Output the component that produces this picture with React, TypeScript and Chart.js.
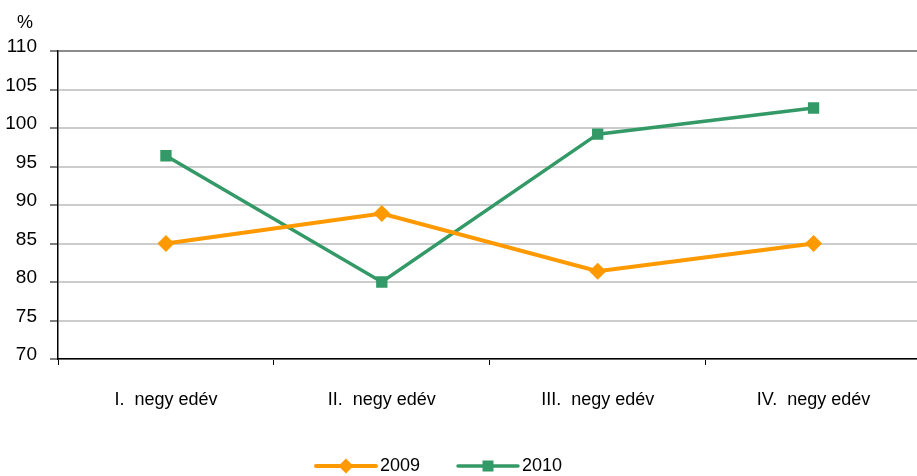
import React, { useEffect, useRef } from "react";
import { Chart, registerables } from "chart.js";

Chart.register(...registerables);

const categories = ["I.  negy edév", "II.  negy edév", "III.  negy edév", "IV.  negy edév"];
const series2009 = [85, 88.9, 81.4, 85];
const series2010 = [96.4, 80, 99.2, 102.6];
const seriesLabels = ["2009", "2010"];
const yMin = 70;
const yMax = 110;
const yStep = 5;
const yUnit = "%";

const ORANGE = "#FF9900";
const GREEN = "#339966";
const FONT = "'Liberation Sans', Arial, sans-serif";

const unitPlugin = {
  id: "unitLabel",
  afterDraw(chart: any) {
    const ctx = chart.ctx;
    const y = chart.scales.y;
    ctx.save();
    ctx.font = `18px ${FONT}`;
    ctx.fillStyle = "#000";
    ctx.textAlign = "center";
    ctx.textBaseline = "middle";
    ctx.fillText(yUnit, 25, y.top - 28);
    ctx.restore();
  },
};

const legendPlugin = {
  id: "lineLegend",
  afterDraw(chart: any) {
    const ctx = chart.ctx;
    const cy = 466;
    const lineLen = 60;
    const gap = 4;
    const itemGap = 38;
    ctx.save();
    ctx.font = `18px ${FONT}`;
    const ds = chart.data.datasets;
    let total = 0;
    ds.forEach((d: any, i: number) => {
      total += lineLen + gap + ctx.measureText(d.label).width;
      if (i < ds.length - 1) total += itemGap;
    });
    let x = 439 - total / 2;
    ds.forEach((d: any) => {
      ctx.strokeStyle = d.borderColor;
      ctx.lineWidth = d.borderWidth;
      ctx.lineCap = "round";
      ctx.beginPath();
      ctx.moveTo(x, cy);
      ctx.lineTo(x + lineLen, cy);
      ctx.stroke();
      ctx.fillStyle = d.pointBackgroundColor;
      const cx = x + lineLen / 2;
      ctx.beginPath();
      if (d.pointStyle === "rectRot") {
        const r = 7.5;
        ctx.moveTo(cx, cy - r);
        ctx.lineTo(cx + r, cy);
        ctx.lineTo(cx, cy + r);
        ctx.lineTo(cx - r, cy);
        ctx.closePath();
      } else {
        const s = 5.5;
        ctx.rect(cx - s, cy - s, 2 * s, 2 * s);
      }
      ctx.fill();
      ctx.fillStyle = "#000";
      ctx.textAlign = "left";
      ctx.textBaseline = "middle";
      ctx.fillText(d.label, x + lineLen + gap, cy);
      x += lineLen + gap + ctx.measureText(d.label).width + itemGap;
    });
    ctx.restore();
  },
};

export default function App() {
  const ref = useRef<HTMLCanvasElement | null>(null);
  useEffect(() => {
    if (!ref.current) return;
    const chart = new Chart(ref.current, {
      type: "line",
      data: {
        labels: categories,
        datasets: [
          {
            label: seriesLabels[0],
            data: series2009,
            borderColor: ORANGE,
            backgroundColor: ORANGE,
            pointBackgroundColor: ORANGE,
            pointBorderColor: ORANGE,
            pointBorderWidth: 0,
            borderWidth: 4,
            pointStyle: "rectRot",
            pointRadius: 8.5,
            tension: 0,
          },
          {
            label: seriesLabels[1],
            data: series2010,
            borderColor: GREEN,
            backgroundColor: GREEN,
            pointBackgroundColor: GREEN,
            pointBorderColor: GREEN,
            pointBorderWidth: 0,
            borderWidth: 3.5,
            pointStyle: "rect",
            pointRadius: 8,
            tension: 0,
          },
        ],
      },
      options: {
        animation: false,
        responsive: false,
        devicePixelRatio: 1,
        layout: { padding: { top: 51, right: 2, left: 0, bottom: 57 } },
        plugins: {
          legend: { display: false },
          tooltip: { enabled: false },
          title: { display: false },
        },
        scales: {
          x: {
            offset: true,
            grid: {
              offset: true,
              drawOnChartArea: false,
              drawTicks: true,
              tickLength: 6,
              tickColor: "#000",
              tickWidth: 1,
            },
            border: { display: true, color: "#000", width: 1.5 },
            ticks: {
              color: "#000",
              font: { family: FONT, size: 18 },
              padding: 24,
              maxRotation: 0,
              autoSkip: false,
            },
            afterFit(scale: any) {
              scale.height = 60;
            },
          },
          y: {
            min: yMin,
            max: yMax,
            grid: {
              color: (c: any) => (c.tick && c.tick.value === yMax ? "#8c8c8c" : "#cccccc"),
              lineWidth: 2,
              drawTicks: true,
              tickLength: 8,
              tickColor: "#000",
              tickWidth: 1,
            },
            border: { display: true, color: "#000", width: 1.5 },
            ticks: {
              stepSize: yStep,
              color: "#000",
              font: { family: FONT, size: 19 },
              padding: 13,
              labelOffset: -4,
            },
            afterFit(scale: any) {
              scale.width = 58;
            },
          },
        },
      },
      plugins: [unitPlugin, legendPlugin],
    });
    return () => chart.destroy();
  }, []);
  return (
    <div style={{ position: "absolute", left: 0, top: 0, width: 917, height: 476, overflow: "hidden", background: "#fff" }}>
      <canvas ref={ref} width={930} height={476} style={{ display: "block" }} />
    </div>
  );
}
